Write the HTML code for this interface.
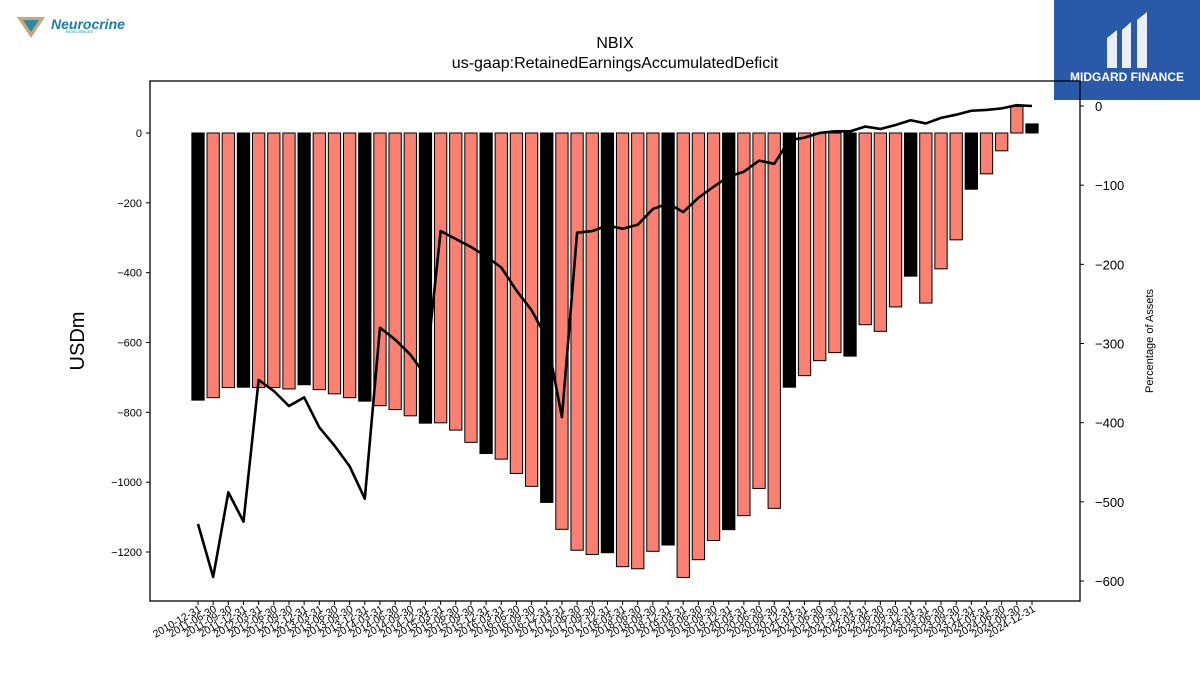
<!DOCTYPE html>
<html><head><meta charset="utf-8"><style>
body{margin:0;background:#fff;width:1200px;height:675px;overflow:hidden;font-family:"Liberation Sans",sans-serif}
#wrap{position:relative;width:1200px;height:675px}
</style></head><body><div id="wrap">
<svg id="chart" width="1200" height="675" font-family="Liberation Sans, sans-serif">
<g>
<polygon points="17,17 45,17 31,38" fill="#c9a57a"/>
<polygon points="23,20 39,20 31,32" fill="#2a8aa8"/>
<text x="51" y="29" font-size="14" font-weight="bold" fill="#1b7fa5" font-style="italic">Neurocrine</text>
<text x="66" y="33" font-size="4" fill="#1b7fa5">BIOSCIENCES</text>
</g>
<g>
<rect x="1054" y="0" width="146" height="100" fill="#2b59aa"/>
<path d="M1107,68 L1107,38 L1117,30 L1117,68 Z M1122,68 L1122,30 L1131,22 L1131,68 Z M1137,68 L1137,20 L1147,12 L1147,68 Z" fill="#fff" opacity="0.9"/>
<text x="1127" y="81" font-size="12" font-weight="bold" fill="#fff" text-anchor="middle">MIDGARD FINANCE</text>
</g>
<text x="615" y="48" font-size="16" text-anchor="middle">NBIX</text>
<text x="615" y="68" font-size="16" text-anchor="middle">us-gaap:RetainedEarningsAccumulatedDeficit</text>
<text transform="translate(84,341) rotate(-90)" font-size="20" text-anchor="middle">USDm</text>
<text transform="translate(1153,341) rotate(-90)" font-size="11" text-anchor="middle">Percentage of Assets</text>
<g id="bars"></g><g id="line"></g><g id="axes"></g>
</svg></div>
<script>
const categories=["2010-12-31","2011-06-30","2011-09-30","2011-12-31"];
for(let y=2012;y<=2024;y++){["03-31","06-30","09-30","12-31"].forEach(q=>categories.push(y+"-"+q));}
const deficitValues=[-765,-758,-729,-728,-729,-729,-733,-721,-735,-747,-758,-768,-781,-792,-810,-831,-830,-851,-886,-918,-934,-975,-1012,-1058,-1135,-1195,-1207,-1202,-1242,-1248,-1198,-1180,-1273,-1222,-1167,-1136,-1096,-1018,-1075,-728,-695,-652,-629,-639,-549,-568,-498,-410,-487,-389,-306,-161,-117,-51,76,26];
const pctAssets=[-528,-595,-488,-525,-346,-360,-379,-368,-406,-429,-455,-496,-280,-295,-314,-340,-158,-168,-178,-190,-204,-233,-258,-293,-393,-160,-158,-151,-155,-150,-130,-123,-134,-116,-102,-89,-83,-69,-73,-43,-40,-34,-32,-32,-26,-29,-24,-18,-22,-15,-11,-6,-5,-3,1,0];
const leftTicks=[0,-200,-400,-600,-800,-1000,-1200];
const rightTicks=[0,-100,-200,-300,-400,-500,-600];
const NS="http://www.w3.org/2000/svg";
const X0=150,X1=1080,Y0=81,Y1=601;
const xPos=i=>198+i*(1032-198)/(categories.length-1);
const yL=v=>133-v*0.34917;
const yR=v=>106-v*0.79167;
function mk(tag,attrs,parent){const e=document.createElementNS(NS,tag);for(const k in attrs)e.setAttribute(k,attrs[k]);parent.appendChild(e);return e;}
const bars=document.getElementById('bars'),line=document.getElementById('line'),axes=document.getElementById('axes');
const bw=12.3;
deficitValues.forEach((v,i)=>{
 const q4=categories[i].endsWith("12-31");
 const y=Math.min(yL(v),yL(0)),h=Math.abs(yL(v)-yL(0));
 const r=mk('rect',{x:xPos(i)-bw/2,y:y,width:bw,height:h,fill:q4?'#000':'#fa8072',stroke:'#000','stroke-width':1},bars);
 
 
});
const pl=mk('polyline',{points:pctAssets.map((v,i)=>xPos(i)+','+yR(v)).join(' '),fill:'none',stroke:'#000','stroke-width':2.6,'stroke-linejoin':'round'},line);


const fr=mk('rect',{x:X0,y:Y0,width:X1-X0,height:Y1-Y0,fill:'none',stroke:'#000','stroke-width':1.3},axes);


leftTicks.forEach(v=>{
 const y=yL(v);
 mk('line',{x1:X0-4,x2:X0,y1:y,y2:y,stroke:'#000'},axes);
 const t=mk('text',{x:X0-8,y:y+4,'font-size':11,'text-anchor':'end'},axes);
 t.textContent=v<0?'\u2212'+(-v):v;
 
 
});
rightTicks.forEach(v=>{
 const y=yR(v);
 mk('line',{x1:X1,x2:X1+4,y1:y,y2:y,stroke:'#000'},axes);
 const t=mk('text',{x:X1+15,y:y+5,'font-size':13},axes);
 t.textContent=v<0?'\u2212'+(-v):v;
 
 
});
categories.forEach((c,i)=>{
 const x=xPos(i);
 mk('line',{x1:x,x2:x,y1:Y1,y2:Y1+4,stroke:'#000'},axes);
 const t=mk('text',{transform:`translate(${x+4},${Y1+10}) rotate(-30)`,'font-size':10.5,'text-anchor':'end'},axes);
 t.textContent=c;
 
 
});
</script></body></html>
